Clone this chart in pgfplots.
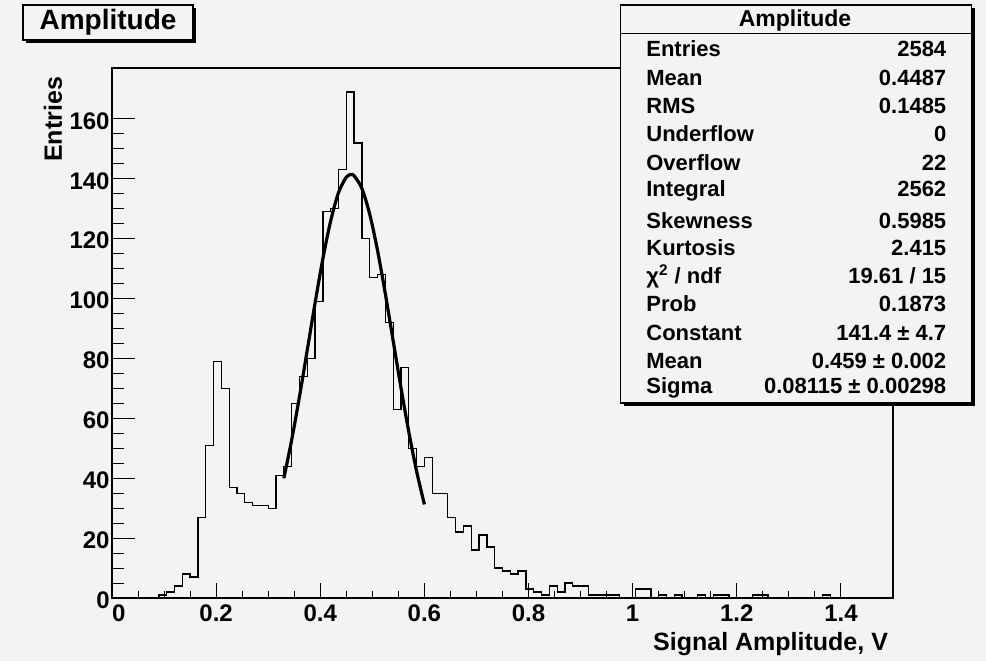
\documentclass[border=0pt]{standalone}
\usepackage{fontspec}
\setmainfont{Liberation Sans}
\usepackage{pgfplots}
\usepackage{pgfplotstable}
\pgfplotsset{compat=1.18}
\definecolor{bg}{RGB}{243,243,243}

\pgfplotstableread{
x y
0.000 0
0.015 0
0.030 0
0.045 0
0.060 0
0.075 0
0.090 1
0.105 2
0.120 4
0.135 8
0.150 7
0.165 27
0.180 51
0.195 79
0.210 70
0.225 37
0.240 35
0.255 32
0.270 31
0.285 31
0.300 30
0.315 41
0.330 44
0.345 65
0.360 74
0.375 80
0.390 99
0.405 129
0.420 130
0.435 143
0.450 169
0.465 152
0.480 120
0.495 107
0.510 108
0.525 92
0.540 63
0.555 77
0.570 50
0.585 44
0.600 47
0.615 35
0.630 35
0.645 27
0.660 22
0.675 24
0.690 16
0.705 21
0.720 17
0.735 10
0.750 9
0.765 8
0.780 9
0.795 3
0.810 2
0.825 1
0.840 4
0.855 2
0.870 5
0.885 4
0.900 4
0.915 1
0.930 1
0.945 1
0.960 1
0.975 0
0.990 0
1.005 3
1.020 3
1.035 0
1.050 1
1.065 0
1.080 1
1.095 0
1.110 0
1.125 1
1.140 0
1.155 1
1.170 1
1.185 0
1.200 0
1.215 0
1.230 1
1.245 1
1.260 0
1.275 0
1.290 0
1.305 0
1.320 0
1.335 0
1.350 0
1.365 1
1.380 0
1.395 0
1.410 0
1.425 0
1.440 0
1.455 0
1.470 0
1.485 0
1.500 0
}\histdata

\pgfplotstableread{
x y
0.330 39.97
0.345 52.71
0.360 67.18
0.375 82.76
0.390 98.50
0.405 113.32
0.420 125.97
0.435 135.35
0.450 140.54
0.459 141.40
0.465 141.01
0.480 136.75
0.495 128.15
0.510 116.06
0.525 101.58
0.540 85.91
0.555 70.23
0.570 55.49
0.585 42.36
0.600 31.25
}\fitdata

\pgfplotsset{
  rootaxis/.style={
    at={(56pt,31.5pt)}, anchor=south west,
    scale only axis, width=390.5pt, height=265pt,
    xmin=0, xmax=1.5, ymin=0, ymax=177,
    tick align=inside,
    axis line style={line width=0.6pt, black},
    every tick/.style={black, line width=0.5pt},
    /pgf/number format/assume math mode=true,
    ticklabel style={font=\bfseries\fontsize{12}{14}\selectfont},
  }
}

\begin{document}
\begin{tikzpicture}[x=1pt,y=1pt]
\path[use as bounding box, fill=bg] (0,0) rectangle (493,330.5);
\begin{axis}[
  rootaxis,
  axis background/.style={fill=bg},
  xtick={0,0.2,0.4,0.6,0.8,1,1.2,1.4},
  xticklabels={\hphantom{0}0,0.2,0.4,0.6,0.8,1,1.2,1.4},
  minor x tick num=3,
  ytick=\empty,
  xtick pos=bottom,
  major tick length=7.5pt, minor tick length=3.5pt,
]
\addplot[const plot, line width=0.65pt, black] table[x=x, y=y] {\histdata};
\addplot[smooth, line width=1.6pt, black] table[x=x, y=y] {\fitdata};
\end{axis}
\begin{axis}[
  rootaxis,
  xtick=\empty,
  ytick={0,20,40,60,80,100,120,140,160},
  minor y tick num=3,
  ytick pos=left,
  major tick length=11.5pt, minor tick length=6pt,
  yticklabel style={inner sep=1pt, yshift=-1pt},
]
\addplot[draw=none] coordinates {(0,0)};
\end{axis}

% axis titles
\node[anchor=base east, font=\bfseries\fontsize{12.5}{15}\selectfont] at (447.5,5.5) {Signal Amplitude, V};
\node[rotate=90, anchor=base east, font=\bfseries\fontsize{12.5}{15}\selectfont] at (31,295.5) {Entries};

% title box
\fill[black] (13,309) rectangle (98,326.5);
\filldraw[fill=bg, draw=black, line width=0.6pt] (11.5,310.5) rectangle (96.5,328);
\node[font=\bfseries\fontsize{14}{16}\selectfont] at (54,319.3) {Amplitude};

% stats box
\fill[black] (312,127.5) rectangle (487.35,326.5);
\filldraw[fill=bg, draw=black, line width=0.6pt] (310.35,129) rectangle (485.85,328);
\draw[line width=0.6pt] (310.35,313.85) -- (485.85,313.85);
\node[anchor=base, font=\bfseries\fontsize{11.5}{14}\selectfont] at (397.5,317.2) {Amplitude};
\begin{scope}[every node/.style={font=\bfseries\fontsize{11}{13}\selectfont}]
\node[anchor=base west] at (319.65,302.15) {Entries};   \node[anchor=base east] at (476.65,302.15) {2584};
\node[anchor=base west] at (319.65,288.0) {Mean};       \node[anchor=base east] at (476.65,288.0) {0.4487};
\node[anchor=base west] at (319.65,274.0) {RMS};        \node[anchor=base east] at (476.65,274.0) {0.1485};
\node[anchor=base west] at (319.65,259.65) {Underflow}; \node[anchor=base east] at (476.65,259.65) {0};
\node[anchor=base west] at (319.65,245.5) {Overflow};   \node[anchor=base east] at (476.65,245.5) {22};
\node[anchor=base west] at (319.65,232.15) {Integral};  \node[anchor=base east] at (476.65,232.15) {2562};
\node[anchor=base west] at (319.65,216.5) {Skewness};   \node[anchor=base east] at (476.65,216.5) {0.5985};
\node[anchor=base west] at (319.65,203.0) {Kurtosis};   \node[anchor=base east] at (476.65,203.0) {2.415};
\node[anchor=base west] at (319.65,189.0) {χ\textsuperscript{2} / ndf}; \node[anchor=base east] at (476.65,189.0) {19.61 / 15};
\node[anchor=base west] at (319.65,174.65) {Prob};      \node[anchor=base east] at (476.65,174.65) {0.1873};
\node[anchor=base west] at (319.65,160.5) {Constant};   \node[anchor=base east] at (476.65,160.5) {141.4 ± 4.7};
\node[anchor=base west] at (319.65,146.5) {Mean};       \node[anchor=base east] at (476.65,146.5) {0.459 ± 0.002};
\node[anchor=base west] at (319.65,134.0) {Sigma};      \node[anchor=base east] at (476.65,134.0) {0.08115 ± 0.00298};
\end{scope}
\end{tikzpicture}
\end{document}
